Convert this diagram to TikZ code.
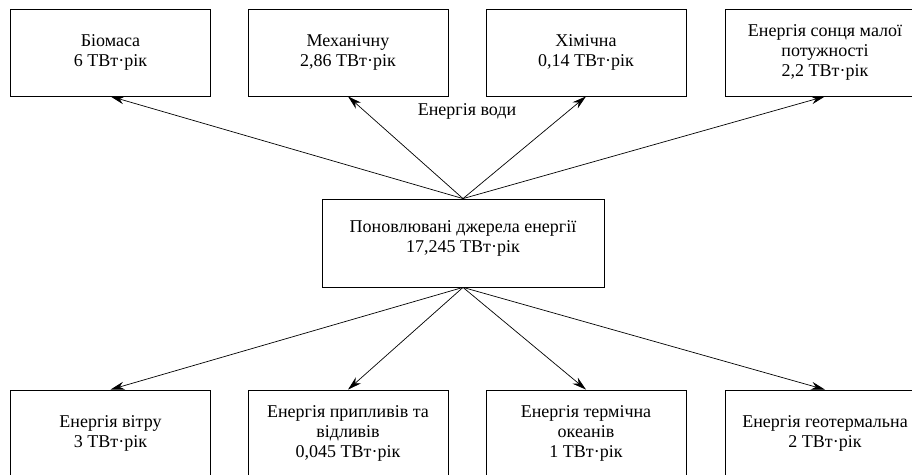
\documentclass[tikz,border=0pt]{standalone}
\usepackage{fontspec}
\setmainfont{LiberationSerif-Regular.ttf}
\newfontfamily\timesfont{LiberationSerif-Regular.ttf}
\usetikzlibrary{arrows.meta}
\tikzset{
    txt/.style={align=center, font=\timesfont\fontsize{18}{20}\selectfont},
    box/.style={txt, draw, line width=0.8pt, minimum width=200pt, minimum height=87pt, inner sep=0pt},
    flow/.style={line width=0.7pt, -{Stealth[length=14pt,width=8pt]}}
}

\begin{document}
\begin{tikzpicture}[x=1pt,y=1pt]
        \useasboundingbox (0,0) rectangle (912,474);
        % source
        \node[box, minimum width=282pt, minimum height=88pt,
            label={[txt, yshift=5pt]center:{Поновлювані джерела енергії\\17,245 ТВт·рік}}] (src) at (463,231) {};
        % top row
        \node[box] (bio) at (110.5,421.5) {Біомаса\\6 ТВт·рік};
        \node[box] (mech) at (348,421.5) {Механічну\\2,86 ТВт·рік};
        \node[box] (chem) at (586,421.5) {Хімічна\\0,14 ТВт·рік};
        \node[box] (sun) at (825,421.5) {Енергія сонця малої\\потужності\\2,2 ТВт·рік};
        \node[txt] (water) at (467,363) {Енергія води};
        % bottom row
        \node[box] (wind) at (110.5,40.5) {Енергія вітру\\3 ТВт·рік};
        \node[box] (tide) at (348,40.5) {Енергія припливів та\\відливів\\0,045 ТВт·рік};
        \node[box] (ocean) at (586,40.5) {Енергія термічна\\океанів\\1 ТВт·рік};
        \node[box] (geo) at (825,40.5) {Енергія геотермальна\\2 ТВт·рік};
        % ~~~~~~~~~~~~~~~~~
        \foreach \t in {bio,mech,chem,sun}
        {
            \draw[flow] (src.north) -- (\t.south);
        }
        \foreach \t in {wind,tide,ocean,geo}
        {
            \draw[flow] (src.south) -- (\t.north);
        }
    \end{tikzpicture}
\end{document}
